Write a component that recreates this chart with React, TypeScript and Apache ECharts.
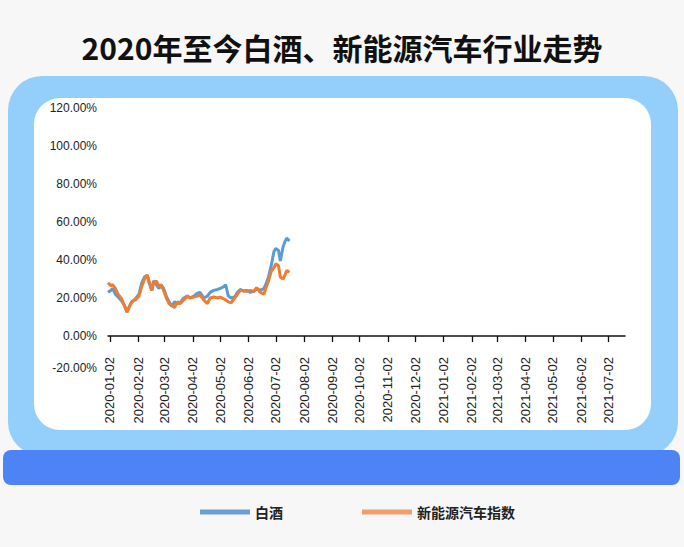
import React, { useEffect, useRef } from "react";
import * as echarts from "echarts";

// x axis range (calendar days) and shown tick labels
const axisStart = "2019-12-31";
const axisEnd = "2021-07-20";
const tickLabels = [
  "2020-01-02", "2020-02-02", "2020-03-02", "2020-04-02", "2020-05-02", "2020-06-02",
  "2020-07-02", "2020-08-02", "2020-09-02", "2020-10-02", "2020-11-02", "2020-12-02",
  "2021-01-02", "2021-02-02", "2021-03-02", "2021-04-02", "2021-05-02", "2021-06-02",
  "2021-07-02",
];

// y axis
const yMin = -20;
const yMax = 120;
const yStep = 20;

// series
const dates = [
  "2019-12-31", "2020-01-03", "2020-01-05", "2020-01-08", "2020-01-11", "2020-01-15", "2020-01-18", "2020-01-21", "2020-01-23", "2020-01-26",
  "2020-01-30", "2020-02-03", "2020-02-06", "2020-02-09", "2020-02-12", "2020-02-14", "2020-02-17", "2020-02-19", "2020-02-22", "2020-02-25",
  "2020-02-27", "2020-03-01", "2020-03-04", "2020-03-07", "2020-03-10", "2020-03-13", "2020-03-16", "2020-03-19", "2020-03-23", "2020-03-27",
  "2020-03-30", "2020-04-03", "2020-04-07", "2020-04-10", "2020-04-14", "2020-04-18", "2020-04-21", "2020-04-25", "2020-04-29", "2020-05-02",
  "2020-05-06", "2020-05-08", "2020-05-11", "2020-05-14", "2020-05-18", "2020-05-21", "2020-05-24", "2020-05-28", "2020-05-31", "2020-06-04",
  "2020-06-08", "2020-06-11", "2020-06-15", "2020-06-19", "2020-06-21", "2020-06-24", "2020-06-27", "2020-06-30", "2020-07-02", "2020-07-05",
  "2020-07-07", "2020-07-10", "2020-07-12", "2020-07-14", "2020-07-17",
];
const baijiu = [
  23, 24, 25, 22, 20.5, 18.5, 16, 12.6, 15, 18,
  19.5, 22, 28, 31, 32, 28, 24, 29, 27, 25,
  27, 25, 21, 18, 15.5, 18, 17, 17.5, 20, 21,
  20, 21, 22.5, 23, 20, 21, 23, 24, 24.5, 25,
  26, 27, 21, 20, 20.5, 23, 24.5, 23.5, 24, 23,
  23.5, 25, 24, 25, 27, 31, 37, 44.5, 46, 45,
  39.5, 47, 49.5, 51.5, 50,
];
const nev = [
  28, 26.5, 27, 25, 22, 19.5, 16, 12.6, 15, 18,
  19, 21, 26, 30, 32, 29, 24, 28, 29, 26,
  27, 24, 20, 17, 16, 15, 18, 17, 19, 21,
  20, 20.5, 21, 21.5, 19, 17, 20, 20.5, 20, 20.5,
  19.5, 19, 18, 17.5, 20, 22, 24, 24, 23.5, 24,
  23.5, 25.5, 23, 22, 25, 29, 34, 36, 38, 37,
  31, 30, 32, 34.5, 33.5,
];

const seriesNames = ["白酒", "新能源汽车指数"];
const titleText = "2020年至今白酒、新能源汽车行业走势";

function buildDays(start: string, end: string): string[] {
  const out: string[] = [];
  const d = new Date(start + "T00:00:00Z");
  const e = new Date(end + "T00:00:00Z");
  while (d.getTime() <= e.getTime()) {
    out.push(d.toISOString().slice(0, 10));
    d.setUTCDate(d.getUTCDate() + 1);
  }
  return out;
}

export default function App() {
  const ref = useRef<HTMLDivElement>(null);
  useEffect(() => {
    if (!ref.current) return;
    const chart = echarts.init(ref.current, null, { renderer: "svg" });
    const days = buildDays(axisStart, axisEnd);
    const showTick = (_i: number, v: string) => tickLabels.includes(v);
    const font = "Liberation Sans, Arial, sans-serif";
    chart.setOption({
      animation: false,
      backgroundColor: "#f7f7f7",
      title: {
        text: titleText,
        left: "center",
        top: 32,
        padding: 0,
        textStyle: {
          fontSize: 30,
          fontWeight: "bold",
          color: "#111",
          fontFamily: "Noto Sans CJK SC",
        },
      },
      graphic: [
        { type: "rect", z: -10, shape: { x: 8, y: 76, width: 670, height: 380, r: 34 }, style: { fill: "#94cffb" } },
        { type: "rect", z: -9, shape: { x: 34, y: 98, width: 617, height: 332, r: 26 }, style: { fill: "#ffffff" } },
        { type: "rect", z: -8, shape: { x: 3, y: 450, width: 677, height: 35, r: 8 }, style: { fill: "#4e83f5" } },
      ],
      legend: {
        top: 505,
        left: 200,
        padding: 0,
        itemWidth: 50,
        itemHeight: 5,
        itemGap: 79,
        icon: "rect",
        textStyle: { fontSize: 14, fontWeight: "bold", color: "#222", fontFamily: "Noto Sans CJK SC" },
        data: [
          { name: seriesNames[0], itemStyle: { color: "#6a9fd6" } },
          { name: seriesNames[1], itemStyle: { color: "#ef9e6e" } },
        ],
      },
      grid: { left: 108, right: 59, top: 108, bottom: 173, containLabel: false },
      xAxis: {
        type: "category",
        boundaryGap: false,
        data: days,
        axisLine: { lineStyle: { color: "#111", width: 1.5 } },
        axisTick: { interval: showTick, length: 6, lineStyle: { color: "#111", width: 1.3 } },
        axisLabel: {
          interval: showTick,
          rotate: 90,
          fontSize: 13,
          color: "#222",
          fontFamily: font,
          margin: -17,
        },
        splitLine: { show: false },
      },
      yAxis: {
        type: "value",
        min: yMin,
        max: yMax,
        interval: yStep,
        axisLine: { show: false },
        axisTick: { show: false },
        splitLine: { show: false },
        axisLabel: {
          fontSize: 12,
          color: "#222",
          fontFamily: font,
          margin: 11,
          formatter: (v: number) =>
            v === yMin ? "{low|" + v.toFixed(2) + "%}" : v.toFixed(2) + "%",
          rich: {
            low: { fontSize: 12, color: "#222", fontFamily: font, padding: [0, 0, 12, 0] },
          },
        },
      },
      series: [
        {
          name: seriesNames[0],
          type: "line",
          showSymbol: false,
          data: dates.map((d, i) => [d, baijiu[i]]),
          lineStyle: { color: "#5b9bd5", width: 3 },
          itemStyle: { color: "#5b9bd5" },
          z: 2,
        },
        {
          name: seriesNames[1],
          type: "line",
          showSymbol: false,
          data: dates.map((d, i) => [d, nev[i]]),
          lineStyle: { color: "#ed7d31", width: 3 },
          itemStyle: { color: "#ed7d31" },
          z: 3,
        },
      ],
    });
    return () => chart.dispose();
  }, []);
  return (
    <div
      ref={ref}
      style={{ position: "fixed", left: 0, top: 0, width: 684, height: 547 }}
    />
  );
}
